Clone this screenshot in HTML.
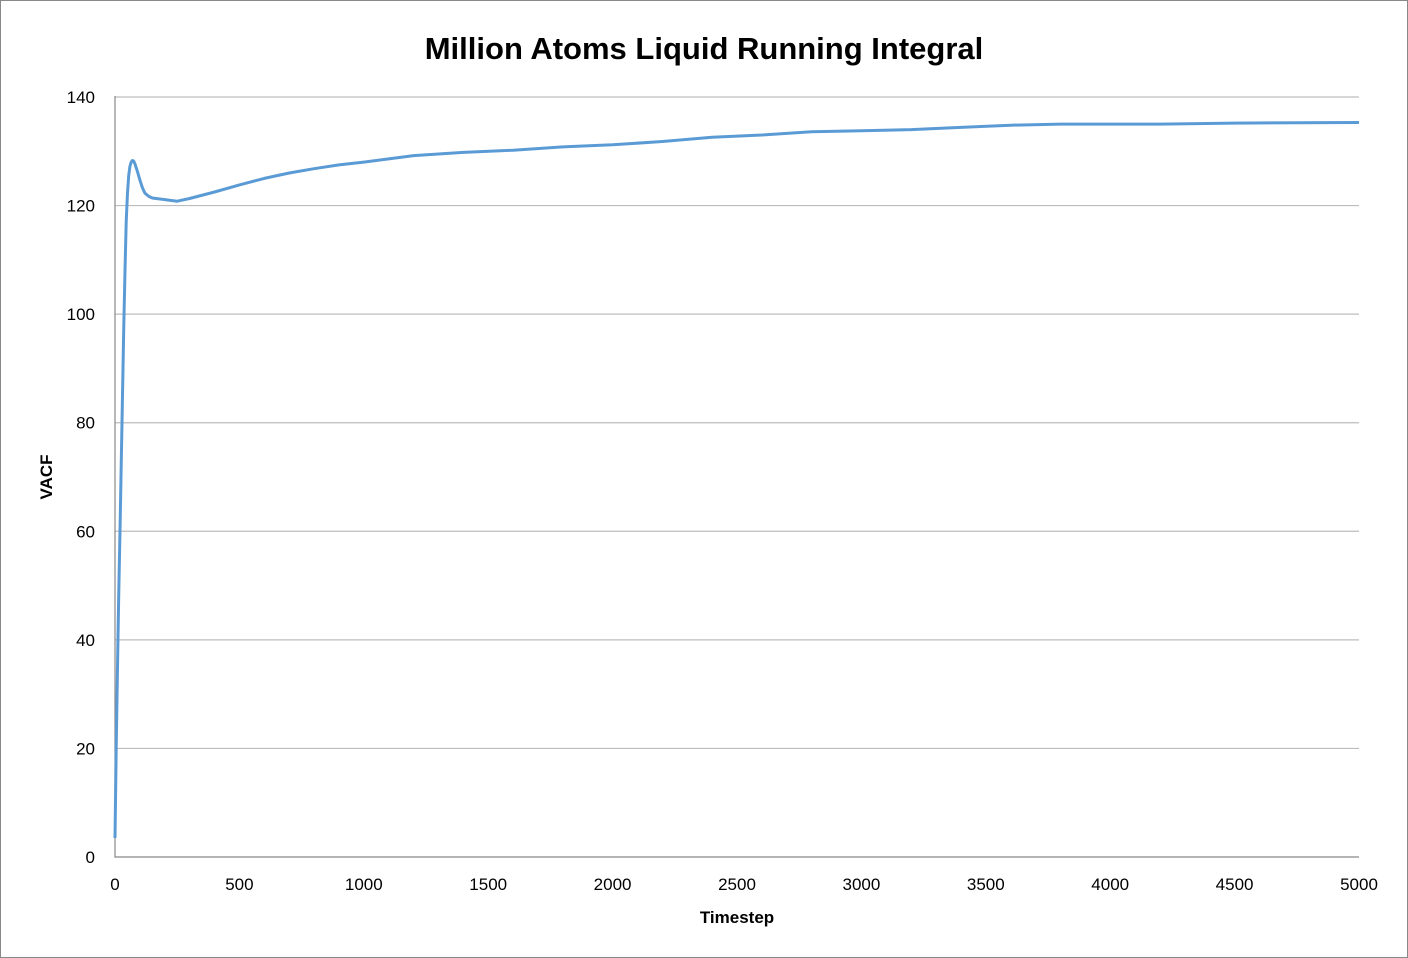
<!DOCTYPE html>
<html><head><meta charset="utf-8"><style>
body{margin:0;background:#fff;}
svg{display:block;font-family:"Liberation Sans",sans-serif;}
</style></head><body>
<svg id="chart" width="1408" height="958">
<rect x="0.5" y="0.5" width="1407" height="957" fill="#fff" stroke="#888"/>
<text x="704" y="59" text-anchor="middle" font-size="31" font-weight="bold" fill="#000">Million Atoms Liquid Running Integral</text>
<text x="737" y="923" text-anchor="middle" font-size="17" font-weight="bold">Timestep</text>
<text transform="translate(52,477) rotate(-90)" text-anchor="middle" font-size="17" font-weight="bold">VACF</text>
<g id="grid"></g><g id="ticks"></g><g id="series"></g>
</svg>
<script>
const xTicks=[0,500,1000,1500,2000,2500,3000,3500,4000,4500,5000];
const yTicks=[0,20,40,60,80,100,120,140];
const timesteps=[0,5,10,15,20,25,30,35,40,45,50,55,60,65,70,75,80,90,100,110,120,135,150,200,250,300,400,500,600,700,800,900,1000,1100,1200,1400,1600,1800,2000,2200,2400,2600,2800,3000,3200,3400,3600,3800,4000,4200,4500,5000];
const vacf=[3.5,20,35,48,60,72,85,97,108,117,122,125.5,127.2,128,128.3,128.2,127.7,126.3,124.7,123.3,122.3,121.7,121.4,121.1,120.8,121.3,122.5,123.8,125,126,126.8,127.5,128,128.6,129.2,129.8,130.2,130.8,131.2,131.8,132.6,133,133.6,133.8,134,134.4,134.8,135,135,135,135.2,135.3];
const X0=115,X1=1359,Y0=857,Y1=97;
const xs=v=>X0+(v-0)/(5000)*(X1-X0);
const ys=v=>Y0-(v/140)*(Y0-Y1);
const NS="http://www.w3.org/2000/svg";
const grid=document.getElementById('grid'),ticks=document.getElementById('ticks'),ser=document.getElementById('series');
function mk(tag,attrs,parent){const e=document.createElementNS(NS,tag);for(const k in attrs)e.setAttribute(k,attrs[k]);parent.appendChild(e);return e;}
yTicks.forEach(v=>{
 if(v>0){const l=mk('line',{x1:X0,x2:X1,y1:ys(v),y2:ys(v),stroke:'#bdbdbd','stroke-width':1.2},grid);
 
 }
 const t=mk('text',{x:95,y:ys(v)+6,'text-anchor':'end','font-size':17},ticks);t.textContent=v;
 
 
});
xTicks.forEach(v=>{
 const t=mk('text',{x:xs(v),y:890,'text-anchor':'middle','font-size':17},ticks);t.textContent=v;
 
 
});
const ax=mk('path',{d:`M${X0} ${Y1-1}V${Y0}H${X1}`,fill:'none',stroke:'#888','stroke-width':1.2},grid);


const p=mk('path',{d:timesteps.map((t,i)=>(i?'L':'M')+xs(t).toFixed(1)+' '+ys(vacf[i]).toFixed(1)).join(''),fill:'none',stroke:'#5b9bd5','stroke-width':3,'stroke-linejoin':'round'},ser);


</script>
</body></html>
